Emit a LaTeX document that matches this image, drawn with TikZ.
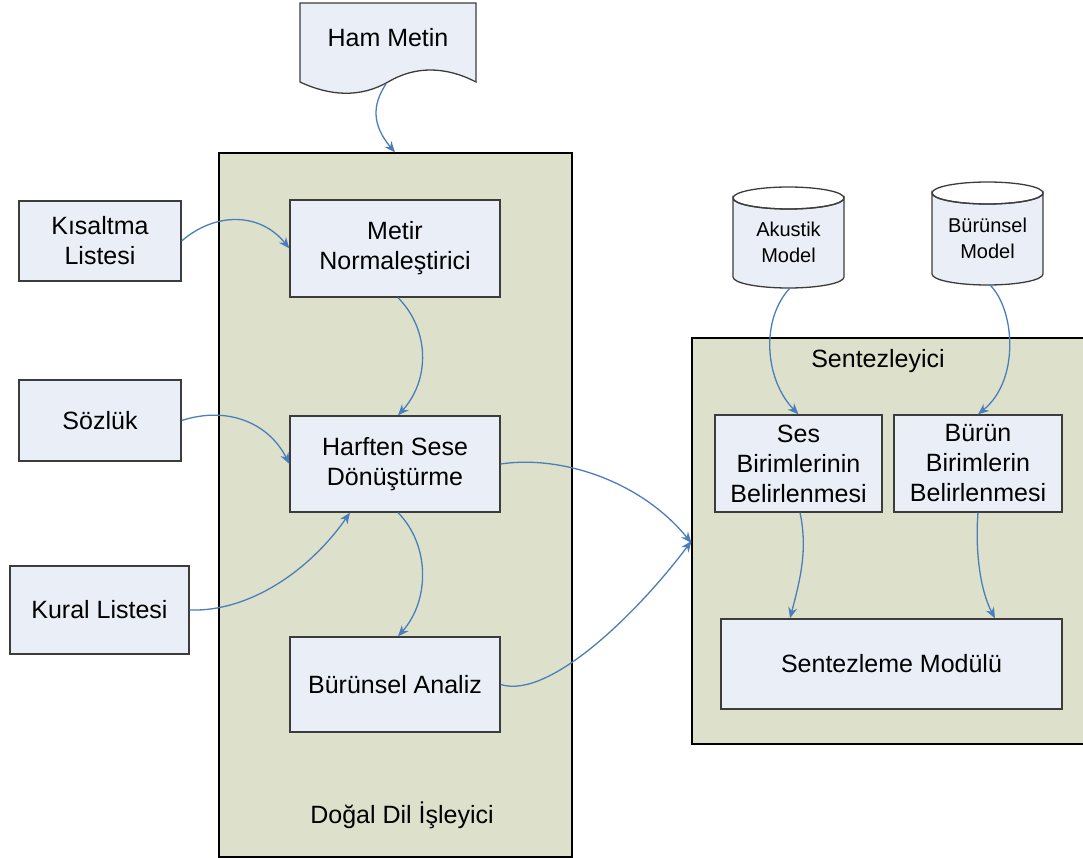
\documentclass[tikz,border=0pt]{standalone}
\usepackage{fontspec}
\setmainfont{Liberation Sans}
\usetikzlibrary{arrows.meta}
\definecolor{boxfill}{HTML}{EAEFF7}
\definecolor{panelfill}{HTML}{DDE1CB}
\definecolor{edge}{HTML}{3C3C3C}
\definecolor{link}{HTML}{4A7EBB}
\begin{document}
\begin{tikzpicture}[x=1pt,y=-1pt,
  box/.style={draw=edge,line width=1.3pt,fill=boxfill,align=center,inner sep=0pt,
    font=\fontsize{25}{30}\selectfont},
  panel/.style={draw=black,line width=1.1pt,fill=panelfill,inner sep=0pt},
  lbl/.style={font=\fontsize{25}{30}\selectfont,inner sep=0pt},
  dblbl/.style={font=\fontsize{20}{26}\selectfont,align=center,inner sep=0pt},
  conn/.style={draw=link,line width=1.3pt,-{Stealth[length=11pt,width=9pt]}}]
\useasboundingbox (0,0) rectangle (1083,858);
\fill[white] (0,0) rectangle (1083,858);

% processing panels
\node[panel,minimum width=353pt,minimum height=704pt] (ddi) at (395.5,505) {};
\node[lbl] (ddilbl) at (402,815) {Doğal Dil İşleyici};
\node[panel,minimum width=400pt,minimum height=406pt] (snt) at (892,541) {};
\node[lbl] (sntlbl) at (878,361) {Sentezleyici};

% raw text document
\draw[edge,line width=1.3pt,fill=boxfill]
  (300,3) -- (476,3) -- (476,82)
  .. controls (445,66) and (415,66) .. (388,82)
  .. controls (360,98) and (330,96) .. (300,82) -- cycle;
\node[lbl] (ham) at (388,38) {Ham Metin};
\coordinate (hamout) at (386,84);

% resource lists
\node[box,minimum width=162pt,minimum height=80pt] (kis) at (100,241) {Kısaltma\\Listesi};
\node[box,minimum width=162pt,minimum height=81pt] (soz) at (100,420.5) {Sözlük};
\node[box,minimum width=179pt,minimum height=88pt] (kur) at (99.5,610) {Kural Listesi};

% language processing steps
\node[box,minimum width=210pt,minimum height=97pt] (met) at (395,248.5) {Metir\\Normaleştirici};
\node[box,minimum width=210pt,minimum height=96pt] (har) at (395,464) {Harften Sese\\Dönüştürme};
\node[box,minimum width=210pt,minimum height=95pt] (bur) at (395,684.5) {Bürünsel Analiz};

% synthesis steps
\node[box,minimum width=167pt,minimum height=97pt] (ses) at (798.5,463.5) {Ses\\Birimlerinin\\Belirlenmesi};
\node[box,minimum width=168pt,minimum height=97pt] (brn) at (978,463.5) {Bürün\\Birimlerin\\Belirlenmesi};
\node[box,minimum width=341pt,minimum height=90pt] (snm) at (891.5,664) {Sentezleme Modülü};

% model databases
\draw[edge,line width=1.3pt,fill=boxfill]
  (733,198) -- (733,277) arc[start angle=180,end angle=360,x radius=55.5pt,y radius=11pt]
  -- (844,198) arc[start angle=0,end angle=-180,x radius=55.5pt,y radius=11pt] -- cycle;
\draw[edge,line width=1.3pt] (788.5,198) ellipse[x radius=55.5pt,y radius=11pt];
\node[dblbl] (aku) at (788.5,242) {Akustik\\Model};
\coordinate (akuout) at (790,288);

\draw[edge,line width=1.3pt,fill=boxfill]
  (932,193) -- (932,274) arc[start angle=180,end angle=360,x radius=55.5pt,y radius=11pt]
  -- (1043,193) arc[start angle=0,end angle=-180,x radius=55.5pt,y radius=11pt] -- cycle;
\draw[edge,line width=1.3pt] (987.5,193) ellipse[x radius=55.5pt,y radius=11pt];
\node[dblbl] (bmd) at (987.5,238) {Bürünsel\\Model};
\coordinate (bmdout) at (990,285);

% connectors
\draw[conn] (hamout) .. controls (372,105) and (372,125) .. ([xshift=-0.5pt]ddi.north);
\draw[conn] (kis.east) .. controls (215,212) and (260,212) .. (met.west);
\draw[conn] ([xshift=3pt]met.south) .. controls (430,330) and (430,380) .. ([xshift=3pt]har.north);
\draw[conn] (soz.east) .. controls (230,405) and (270,425) .. (har.west);
\draw[conn] (kur.east) .. controls (250,612) and (310,570) .. ([xshift=-45pt]har.south);
\draw[conn] ([xshift=3pt]har.south) .. controls (430,545) and (430,600) .. ([xshift=3pt]bur.north);
\draw[conn] (har.east) .. controls (560,455) and (640,480) .. ([yshift=-2pt]snt.west);
\draw[conn] (bur.east) .. controls (550,700) and (640,610) .. ([yshift=0pt]snt.west);
\draw[conn] (akuout) .. controls (760,320) and (765,380) .. (ses.north);
\draw[conn] (bmdout) .. controls (1015,310) and (1020,380) .. (brn.north);
\draw[conn] ([xshift=1.5pt]ses.south) .. controls (808,550) and (800,580) .. ([xshift=-101.5pt]snm.north);
\draw[conn] (brn.south) .. controls (975,550) and (980,590) .. ([xshift=103.5pt]snm.north);
\end{tikzpicture}
\end{document}
